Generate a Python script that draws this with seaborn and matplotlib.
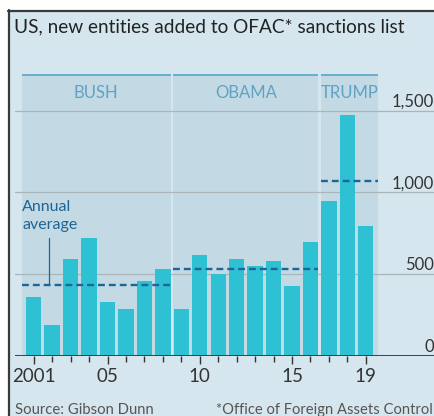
import matplotlib
matplotlib.use("Agg")
import matplotlib.pyplot as plt
import matplotlib.transforms as mtransforms
from matplotlib.patches import Rectangle
from matplotlib.lines import Line2D
import seaborn as sns
import numpy as np

# ---- data ----
years = list(range(2001, 2020))
entities = [360, 185, 593, 718, 328, 287, 456, 530,
            287, 615, 497, 591, 550, 581, 426, 693,
            944, 1475, 791]
presidents = ["BUSH", "OBAMA", "TRUMP"]
term_first = [2001, 2009, 2017]
term_last = [2008, 2016, 2019]
y_ticks = [0, 500, 1000, 1500]
y_tick_labels = ["0", "500", "1,000", "1,500"]
x_label_years = [2001, 2005, 2010, 2015, 2019]
x_label_text = ["2001", "05", "10", "15", "19"]

# ---- style ----
sns.set_theme(style="white")
plt.rcParams["font.family"] = ["Lato", "DejaVu Sans"]

BG = "#d6e6ee"
BAND = "#c3dae5"
BAR = "#2ec1d4"
DASH = "#1d6596"
BANDLINE = "#5eaacb"
BANDTXT = "#5fa2c4"
TXT = "#333333"
GRID = "#aab5ba"

W, H = 435, 416
fig = plt.figure(figsize=(W / 100, H / 100), dpi=100, facecolor="white")

# panel background with left/top rule
fig.patches.append(Rectangle((9 / W, 0), 1, (H - 11) / H, transform=fig.transFigure,
                             facecolor=BG, edgecolor="none", zorder=-5))
fig.lines.append(Line2D([9 / W, 9 / W], [0, (H - 10) / H], transform=fig.transFigure,
                        color="#3a3a3a", lw=1.6, zorder=-4))
fig.lines.append(Line2D([8.5 / W, 1], [(H - 11) / H, (H - 11) / H], transform=fig.transFigure,
                        color="#3a3a3a", lw=1.6, zorder=-4))

# axes geometry in pixels
ax_left_px, ax_right_px = 15, 435
base_px, top_px = 355.5, 75
ax = fig.add_axes([ax_left_px / W, (H - base_px) / H,
                   (ax_right_px - ax_left_px) / W, (base_px - top_px) / H])
ax.set_facecolor("none")
ax.set_zorder(2)

px_per_year = 18.45
x0 = 2001 - (33.7 - ax_left_px) / px_per_year
x1 = x0 + (ax_right_px - ax_left_px) / px_per_year
ymax = 1718
ax.set_xlim(x0, x1)
ax.set_ylim(0, ymax)

# presidency bands
band_edges = []
for i, (a, b) in enumerate(zip(term_first, term_last)):
    lo = a - 0.5 + (0.07 if i > 0 else -0.15)
    hi = b + 0.5 - (0.07 if i < len(term_first) - 1 else -0.14)
    band_edges.append((lo, hi))
    ax.axvspan(lo, hi, color=BAND, lw=0, zorder=0)
    ax.plot([lo, hi], [ymax, ymax], color=BANDLINE, lw=1.3, clip_on=False, zorder=3,
            solid_capstyle="butt")
    ax.text((lo + hi) / 2, 1607, presidents[i], ha="center", va="center",
            color=BANDTXT, fontsize=12)

# gridlines
for v in y_ticks[1:]:
    ax.axhline(v, color=GRID, lw=0.9, zorder=1)

# bars
sns.barplot(x=years, y=entities, native_scale=True, width=0.83, color=BAR,
            saturation=1, linewidth=0, ax=ax, zorder=2)
ax.set_xlim(x0, x1)
ax.set_ylim(0, ymax)

# averages
bush_avg = None
for i, (a, b) in enumerate(zip(term_first, term_last)):
    vals = [v for y, v in zip(years, entities) if a <= y <= b]
    avg = float(np.mean(vals))
    lo, hi = band_edges[i]
    ax.plot([lo, hi], [avg, avg], color=DASH, lw=1.7, dashes=(2.9, 1.7), zorder=4)
    if i == 0:
        bush_avg = avg

# annual average label
ax.plot([2001.85, 2001.85], [bush_avg, 720], color=DASH, lw=0.9, zorder=4)
ax.text(2000.38, 911, "Annual", color=DASH, fontsize=11.5, ha="left", va="center")
ax.text(2000.38, 799, "average", color=DASH, fontsize=11.5, ha="left", va="center")

# baseline
ax.axhline(0, color=TXT, lw=1.3, zorder=5)

# y labels on right
trans = mtransforms.blended_transform_factory(ax.transAxes, ax.transData)
for v, lab in zip(y_ticks, y_tick_labels):
    ax.annotate(lab, xy=(0.998, v), xycoords=trans, xytext=(0, 2.8),
                textcoords="offset points", ha="right", va="baseline",
                color=TXT, fontsize=12)

# x ticks
for s in ax.spines.values():
    s.set_visible(False)
ax.set_yticks([])
ax.set_xticks(x_label_years)
ax.set_xticklabels(x_label_text)
ax.set_xticks([y for y in years if y not in x_label_years], minor=True)
ax.tick_params(axis="x", which="major", length=6, width=1, color=TXT, pad=3,
               labelsize=13.5, labelcolor=TXT, bottom=True)
ax.tick_params(axis="x", which="minor", length=4, width=1, color=TXT, bottom=True)
ax.set_xlabel("")
ax.set_ylabel("")

# title and footers
fig.text(14 / W, 1 - 27 / H, "US, new entities added to OFAC* sanctions list",
         ha="left", va="center", fontsize=13.7, color="#222222")
fig.text(15 / W, 1 - 414 / H, "Source: Gibson Dunn", ha="left", va="baseline",
         fontsize=10.7, color="#555555")
fig.text(433 / W, 1 - 414 / H, "*Office of Foreign Assets Control", ha="right",
         va="baseline", fontsize=10.6, color="#555555")

fig.savefig("out.png", dpi=100, facecolor="white")
